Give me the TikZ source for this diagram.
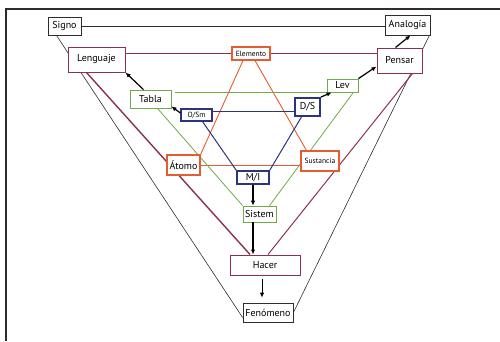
\documentclass[tikz,border=0pt]{standalone}
\usepackage{fontspec}
\setmainfont{PT Sans}
\usetikzlibrary{arrows.meta,calc,backgrounds}

\definecolor{signodark}{RGB}{50,42,46}
\definecolor{lenguajered}{RGB}{140,50,72}
\definecolor{atomoorange}{RGB}{228,92,48}
\definecolor{tablagreen}{RGB}{112,170,72}
\definecolor{dsblue}{RGB}{42,52,128}

\tikzset{
  conceptbox/.style={draw, fill=white, inner sep=0pt, font=\fontsize{10}{11}\selectfont},
  smallbox/.style={conceptbox, font=\fontsize{7.5}{8}\selectfont},
  flowarrow/.style={-{Latex[length=5pt,width=4.5pt]}, black, line width=1.2pt},
}

\begin{document}
\begin{tikzpicture}[x=1pt, y=-1pt, thick]
    \useasboundingbox (0,0) rectangle (500,341);

    % Draw the frame
    \draw[signodark, line width=1.2pt] (6,341) -- (6,9) -- (500,9);

    % Draw the outer boxes
    \node[conceptbox, draw=signodark, line width=0.8pt, minimum width=33pt, minimum height=18pt] (Signo) at (64.5,26) {Signo};
    \node[conceptbox, draw=signodark, line width=0.8pt, minimum width=45pt, minimum height=20pt] (Analogia) at (407.5,25) {Analogía};
    \node[conceptbox, draw=lenguajered, line width=1pt, minimum width=57pt, minimum height=25pt] (Lenguaje) at (96.5,59.5) {Lenguaje};
    \node[conceptbox, draw=lenguajered, line width=1pt, minimum width=45pt, minimum height=25pt] (Pensar) at (399.5,60.5) {Pensar};
    \node[conceptbox, draw=lenguajered, line width=1pt, minimum width=70pt, minimum height=20pt] (Hacer) at (265,265) {Hacer};
    \node[conceptbox, draw=signodark, line width=0.8pt, minimum width=50pt, minimum height=19pt] (Fenomeno) at (268,312.5) {Fenómeno};

    % Draw the orange triangle boxes
    \node[smallbox, draw=atomoorange, line width=1.2pt, minimum width=38pt, minimum height=13pt] (Elemento) at (251,53.5) {Elemento};
    \node[conceptbox, draw=atomoorange, line width=1.2pt, minimum width=33pt, minimum height=20pt] (Atomo) at (183.5,165) {Átomo};
    \node[smallbox, draw=atomoorange, line width=1.2pt, minimum width=38pt, minimum height=20pt] (Sustancia) at (320,161) {Sustancia};

    % Draw the green triangle boxes
    \node[conceptbox, draw=tablagreen, line width=0.8pt, minimum width=41pt, minimum height=18pt] (Tabla) at (150.5,99) {Tabla};
    \node[conceptbox, draw=tablagreen, line width=0.8pt, minimum width=31pt, minimum height=13pt] (Lev) at (342.5,85.5) {Lev};
    \node[conceptbox, draw=tablagreen, line width=0.8pt, minimum width=33pt, minimum height=16pt] (Sistem) at (259.5,214) {Sistem};

    % Draw the blue triangle boxes
    \node[smallbox, draw=dsblue, line width=1.2pt, minimum width=31pt, minimum height=12pt] (OSm) at (196.5,115) {O/Sm};
    \node[conceptbox, draw=dsblue, line width=1.8pt, minimum width=25pt, minimum height=18pt] (DS) at (307.5,107) {D/S};
    \node[conceptbox, draw=dsblue, line width=1.4pt, minimum width=32pt, minimum height=13pt] (MI) at (253,177.5) {M/I};

    \begin{scope}[on background layer]
    % Outer triangle
    \draw[signodark, line width=0.6pt] (Signo.east) -- (Analogia.west |- Signo.east);
    \draw[signodark, line width=0.6pt] ($(Signo.south)+(-8,0)$) -- ($(Fenomeno.west)+(0,5)$);
    \draw[signodark, line width=0.6pt] ($(Analogia.south east)+(-1,0)$) -- (Fenomeno.east);

    % Maroon triangle
    \draw[lenguajered, line width=0.7pt] (Lenguaje.east |- Elemento.center) -- (Pensar.west |- Elemento.center);
    \draw[lenguajered, line width=1.4pt] ($(Lenguaje.south)+(-10,0)$) -- ($(Hacer.north)+(-15,0)$);
    \draw[lenguajered, line width=1pt] ($(Pensar.south)+(13,0)$) -- ($(Hacer.north)+(3,0)$);

    % Orange triangle
    \draw[atomoorange, line width=0.9pt] ($(Elemento.south)+(-8,0)$) -- (Atomo.north east);
    \draw[atomoorange, line width=0.9pt] ($(Elemento.south)+(4,0)$) -- ($(Sustancia.north west)+(6,0)$);
    \draw[atomoorange, line width=0.9pt] (Atomo.east) -- (Sustancia.west |- Atomo.east);

    % Green triangle
    \draw[tablagreen, line width=0.8pt, shorten >=4pt] (Lev.south west) -- (Lev.south west -| Tabla.east);
    \draw[tablagreen, line width=0.8pt] ($(Tabla.south)+(7,0)$) -- (Sistem.north west);
    \draw[tablagreen, line width=0.8pt] ($(Lev.south east)+(-5,0)$) -- ($(Sistem.north)+(10,0)$);

    % Blue triangle
    \draw[dsblue, line width=1pt] ($(OSm.east)+(0,-4)$) -- ($(DS.west)+(0,4)$);
    \draw[dsblue, line width=1pt] ($(OSm.south)+(6,0)$) -- (MI.north west);
    \draw[dsblue, line width=1pt] ($(DS.south)+(-6,0)$) -- (MI.north east);
    \end{scope}

    % Draw the arrows
    \coordinate (hacerbot) at ($(Hacer.south)+(-3,0)$);
    \draw[flowarrow] ($(Tabla.north)+(-7,0)$) -- (Lenguaje.south east);
    \draw[flowarrow] ($(OSm.west)+(0,-2)$) -- ($(Tabla.south east)+(0,-2)$);
    \draw[flowarrow] (DS.north east) -- ($(Lev.south west)+(5,0)$);
    \draw[flowarrow] (Lev.north east) -- ($(Pensar.west)+(0,6)$);
    \draw[flowarrow] ($(Pensar.north)+(-4,0)$) -- ($(Analogia.south)+(3,0)$);
    \draw[flowarrow] (MI.south) -- (MI.south |- Sistem.north);
    \draw[flowarrow] (Sistem.south -| MI.south) -- (MI.south |- Hacer.north);
    \draw[flowarrow, line width=0.9pt, shorten <=3pt, shorten >=5pt] (hacerbot) -- (hacerbot |- Fenomeno.north);
\end{tikzpicture}
\end{document}
